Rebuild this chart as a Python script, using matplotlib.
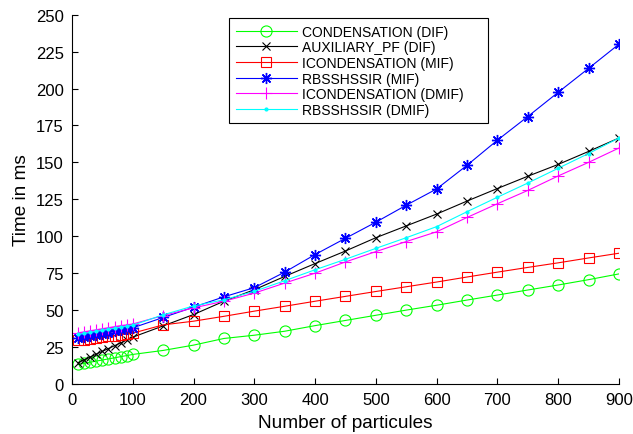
import matplotlib
matplotlib.use("Agg")
import matplotlib.pyplot as plt

plt.rcParams["font.family"] = ["Liberation Sans", "DejaVu Sans"]

# particle counts
particles = [10, 20, 30, 40, 50, 60, 70, 80, 90, 100,
             150, 200, 250, 300, 350, 400, 450, 500, 550, 600,
             650, 700, 750, 800, 850, 900]

# times in ms
condensation_dif = [13.2, 14.0, 14.7, 15.5, 16.2, 17.0, 17.7, 18.5, 19.2, 20.0,
                    22.7, 26.3, 30.8, 33.0, 35.7, 39.5, 43.0, 46.5, 50.0, 53.3,
                    56.8, 60.2, 63.6, 67.0, 70.6, 74.5]
auxiliary_pf_dif = [14.4, 16.3, 18.2, 20.2, 22.1, 24.0, 25.9, 27.8, 29.8, 31.7,
                    39.3, 47.0, 56.0, 63.8, 72.8, 81.5, 90.0, 99.0, 107.0, 115.0,
                    123.8, 132.3, 140.6, 148.6, 157.4, 166.5]
icondensation_mif = [29.5, 30.0, 30.6, 31.1, 31.7, 32.2, 32.8, 33.3, 33.9, 34.4,
                     40.0, 42.5, 45.8, 49.3, 52.6, 56.0, 59.3, 62.6, 65.8, 69.0,
                     72.4, 75.7, 78.9, 82.0, 85.3, 88.5]
rbsshssir_mif = [30.8, 31.6, 32.4, 33.2, 34.0, 34.8, 35.6, 36.4, 37.2, 38.0,
                 45.0, 52.0, 59.0, 65.2, 75.7, 87.6, 98.6, 109.5, 121.0, 132.0,
                 148.0, 165.0, 181.0, 197.4, 213.6, 230.0]
icondensation_dmif = [34.6, 35.3, 36.0, 36.7, 37.4, 38.1, 38.8, 39.5, 40.0, 40.6,
                      46.3, 51.5, 56.0, 61.5, 68.3, 75.0, 82.6, 89.6, 96.4, 103.0,
                      112.7, 122.0, 131.0, 140.8, 150.0, 159.7]
rbsshssir_dmif = [33.5, 34.2, 34.9, 35.6, 36.3, 37.0, 37.7, 38.4, 39.1, 39.8,
                  46.8, 52.8, 57.0, 62.7, 69.9, 77.3, 84.4, 91.8, 99.0, 106.5,
                  116.6, 126.4, 136.0, 146.0, 156.0, 166.5]

fig = plt.figure(figsize=(6.33, 4.35), dpi=100)
ax = fig.add_axes([0.1137, 0.115, 0.864, 0.849])

ax.plot(particles, condensation_dif, color="#00ff00", marker="o", markersize=8,
        markerfacecolor="none", markeredgewidth=0.8, lw=0.8,
        label="CONDENSATION (DIF)")
ax.plot(particles, auxiliary_pf_dif, color="black", marker="x", markersize=6,
        markeredgewidth=0.8, lw=0.8, label="AUXILIARY_PF (DIF)")
ax.plot(particles, icondensation_mif, color="red", marker="s", markersize=6.5,
        markerfacecolor="none", markeredgewidth=0.8, lw=0.8,
        label="ICONDENSATION (MIF)")
ax.plot(particles, rbsshssir_mif, color="blue", marker=(8, 2, 0), markersize=8,
        markeredgewidth=1.0, lw=0.8, label="RBSSHSSIR (MIF)")
ax.plot(particles, icondensation_dmif, color="magenta", marker="+", markersize=8,
        markeredgewidth=0.8, lw=0.8, label="ICONDENSATION (DMIF)")
ax.plot(particles, rbsshssir_dmif, color="cyan", marker=".", markersize=4,
        lw=0.8, label="RBSSHSSIR (DMIF)")

ax.set_xlim(0, 900)
ax.set_ylim(0, 250)
ax.set_xticks(range(0, 901, 100))
ax.set_yticks(range(0, 251, 25))
ax.spines["top"].set_visible(False)
ax.spines["right"].set_visible(False)
ax.tick_params(direction="in", labelsize=12, length=4, pad=6)
ax.set_xlabel("Number of particules", fontsize=13.7, labelpad=5)
ax.set_ylabel("Time in ms", fontsize=13.7, labelpad=4)

leg = ax.legend(loc="upper left", bbox_to_anchor=(0.288, 0.99, 0.472, 0.0),
                mode="expand", fontsize=10,
                fancybox=False, edgecolor="black", framealpha=1,
                handlelength=4.4, labelspacing=0.12, borderpad=0.45,
                handletextpad=0.35, borderaxespad=0)
leg.get_frame().set_linewidth(0.8)

fig.savefig("out.png", dpi=100)
